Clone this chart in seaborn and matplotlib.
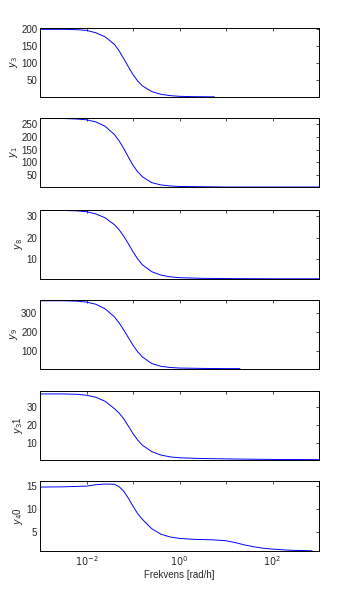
import numpy as np
import pandas as pd
import matplotlib
matplotlib.use("Agg")
import matplotlib.pyplot as plt
import seaborn as sns

# ---- data ----
labels = ["$y_3$", "$y_1$", "$y_8$", "$y_9$", "$y_3$1", "$y_4$0"]

logf1 = [-3, -2.5, -2.2, -2, -1.8, -1.6, -1.4, -1.3, -1.2, -1.1, -1.0, -0.9, -0.8, -0.6, -0.4, -0.2, 0, 0.3, 0.75]
y1 = [200, 200, 199, 197, 190, 178, 156, 137, 114, 90, 67, 48, 34, 17, 9, 5, 3, 2, 1.5]

logf2 = [-3, -2.5, -2.2, -2, -1.8, -1.6, -1.4, -1.3, -1.2, -1.1, -1.0, -0.9, -0.8, -0.6, -0.4, -0.2, 0, 0.5, 1, 2, 3]
y2 = [270, 270, 268, 265, 257, 240, 208, 184, 154, 121, 89, 64, 45, 22, 13, 9, 7, 6, 5, 5, 5]

logf3 = [-3, -2.5, -2.2, -2, -1.8, -1.6, -1.4, -1.3, -1.2, -1.1, -1.0, -0.9, -0.8, -0.6, -0.4, -0.2, 0, 0.5, 1, 2, 3]
y3 = [32.6, 32.6, 32.4, 32.0, 31.0, 29.2, 26.0, 23.7, 20.7, 17.2, 13.5, 10.2, 7.5, 4.3, 2.7, 1.9, 1.5, 1.2, 1.1, 1.0, 1.0]

logf4 = [-3, -2.5, -2.2, -2, -1.8, -1.6, -1.4, -1.3, -1.2, -1.1, -1.0, -0.9, -0.8, -0.6, -0.4, -0.2, 0, 0.5, 1, 1.3]
y4 = [362, 362, 360, 355, 344, 320, 278, 247, 210, 170, 130, 96, 69, 35, 20, 14, 11, 9, 8, 8]

logf5 = [-3, -2.5, -2.2, -2, -1.8, -1.6, -1.4, -1.3, -1.2, -1.1, -1.0, -0.9, -0.8, -0.6, -0.4, -0.2, 0, 0.5, 1, 2, 3]
y5 = [37.0, 37.0, 36.8, 36.3, 35.2, 33.0, 29.0, 26.6, 23.5, 19.5, 15.4, 11.9, 9.1, 5.6, 3.7, 2.7, 2.2, 1.8, 1.6, 1.3, 1.2]

logf6 = [-3, -2.5, -2, -1.8, -1.6, -1.4, -1.3, -1.2, -1.1, -1.0, -0.9, -0.8, -0.6, -0.4, -0.2, 0, 0.3, 0.7, 1.0, 1.2, 1.4, 1.6, 1.8, 2.0, 2.4, 2.85]
y6 = [14.7, 14.75, 14.9, 15.2, 15.35, 15.3, 14.8, 13.8, 12.3, 10.6, 9.0, 7.8, 5.8, 4.6, 4.0, 3.7, 3.5, 3.4, 3.2, 2.8, 2.3, 1.9, 1.6, 1.4, 1.15, 1.05]

series = [(logf1, y1), (logf2, y2), (logf3, y3), (logf4, y4), (logf5, y5), (logf6, y6)]
yticks = [[50, 100, 150, 200], [50, 100, 150, 200, 250], [10, 20, 30],
          [100, 200, 300], [10, 20, 30], [5, 10, 15]]
ylims = [(1, 204), (5, 272), (0.9, 32.8), (6, 366), (1, 38.6), (1, 16)]

xtick_pows = [-3, -2, -1, 0, 1, 2, 3]
xtick_labels = ["", "$10^{-2}$", "", "$10^{0}$", "", "$10^{2}$", ""]

# ---- figure ----
sns.set_style("white")
plt.rcParams["font.family"] = ["Liberation Sans", "DejaVu Sans"]
plt.rcParams["mathtext.fontset"] = "dejavusans"

fig = plt.figure(figsize=(3.37, 5.91), dpi=100)
W, H = 337.0, 591.0
left, right = 40, 319
tops = [28, 118, 210, 300, 391, 481]
bottoms = [97, 187, 279, 369, 460, 551]

for i, ((lf, yv), lab) in enumerate(zip(series, labels)):
    ax = fig.add_axes([left / W, 1 - bottoms[i] / H, (right - left) / W, (bottoms[i] - tops[i]) / H])
    df = pd.DataFrame({"f": np.power(10.0, lf), "y": yv})
    sns.lineplot(data=df, x="f", y="y", ax=ax, color=(0, 0, 1), linewidth=0.7)
    ax.set_xscale("log")
    ax.set_xlim(1e-3, 1e3)
    ax.set_ylim(*ylims[i])
    ax.set_yticks(yticks[i])
    ax.set_yticklabels([str(t) for t in yticks[i]], fontsize=7)
    ax.set_xticks([10.0 ** p for p in xtick_pows])
    ax.xaxis.set_minor_locator(matplotlib.ticker.NullLocator())
    if i == 5:
        ax.set_xticklabels(xtick_labels, fontsize=7)
        ax.set_xlabel("Frekvens [rad/h]", fontsize=7, labelpad=2)
    else:
        ax.set_xticklabels([])
        ax.set_xlabel("")
    ax.set_ylabel(lab, fontsize=7, labelpad=1)
    ax.tick_params(direction="in", length=2.5, width=0.6, top=True, right=True, pad=2)
    for s in ax.spines.values():
        s.set_visible(True)
        s.set_color("black")
        s.set_linewidth(0.7)

fig.savefig("out.png", dpi=100, facecolor="white")
